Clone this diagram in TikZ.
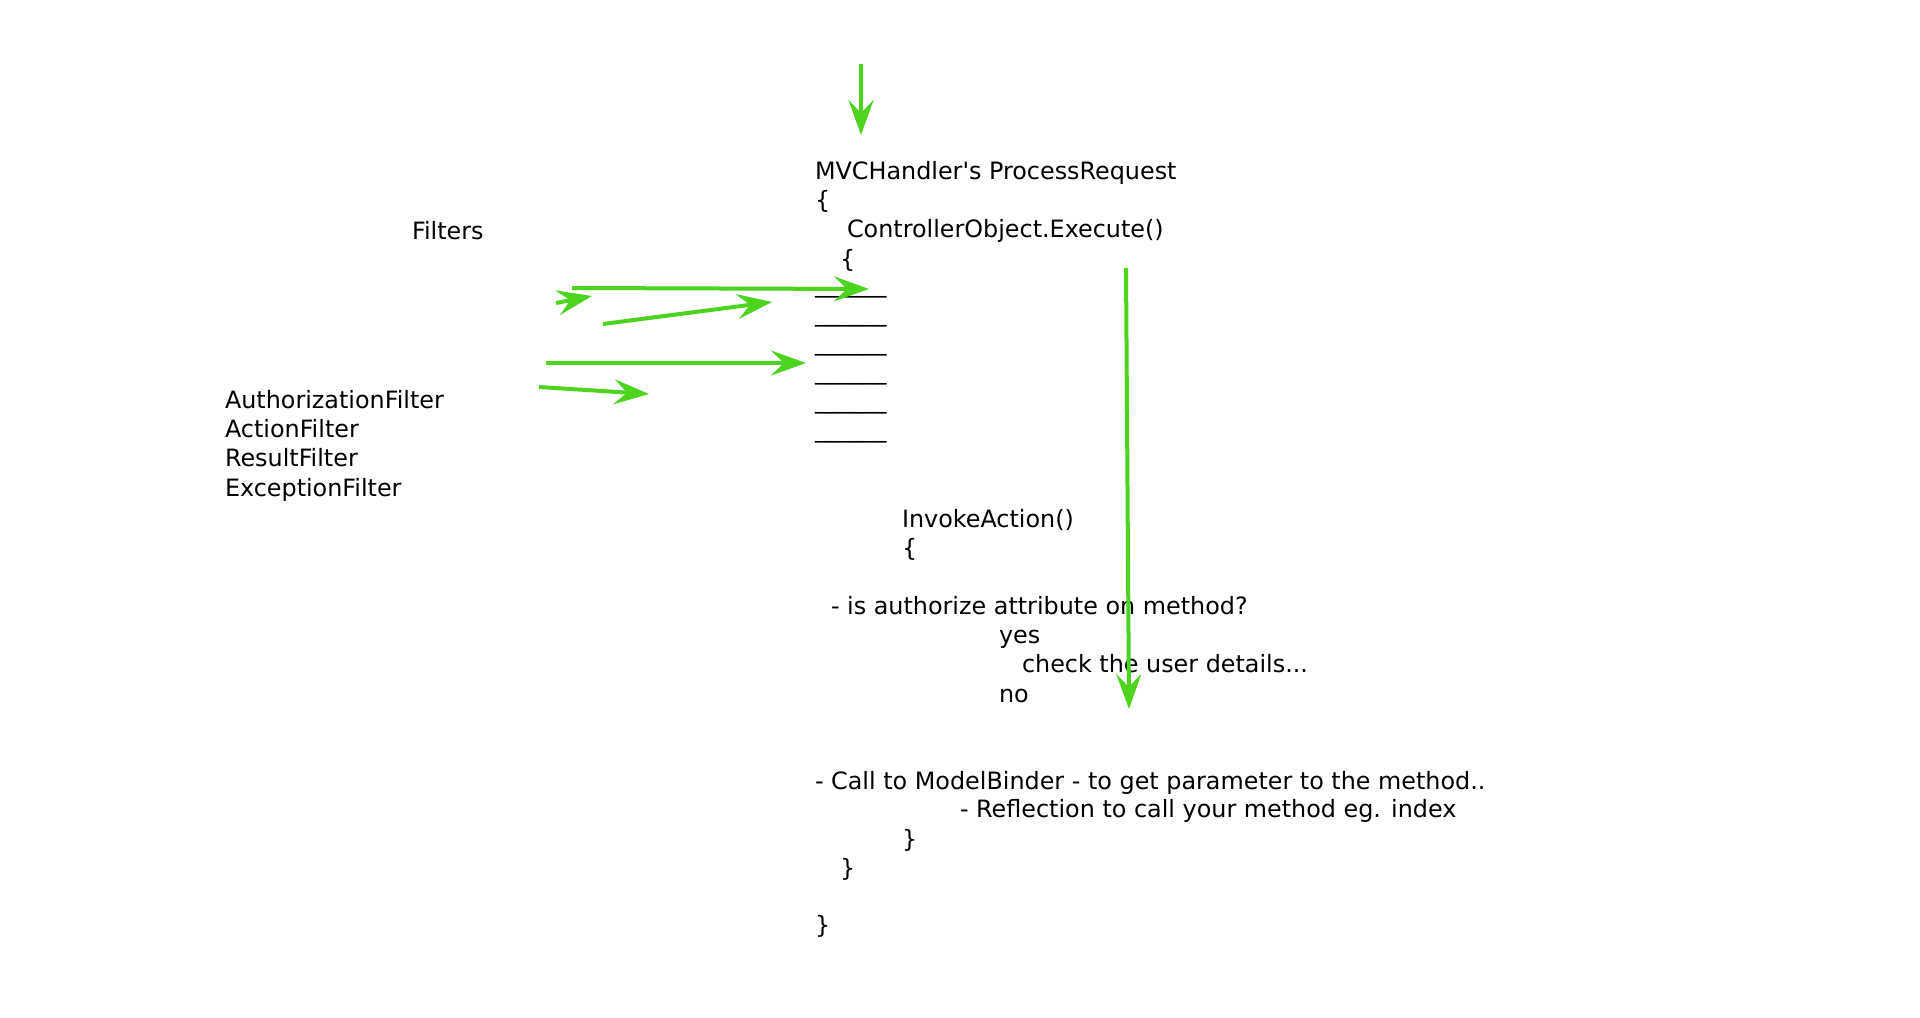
\documentclass[tikz,border=0pt]{standalone}
\usepackage{fontspec}
\setmainfont{DejaVu Sans}
\usetikzlibrary{arrows.meta}
\definecolor{arrgreen}{HTML}{4CD41E}
\tikzset{
  txt/.style={anchor=base west, inner sep=0pt, outer sep=0pt, font=\fontsize{11.93pt}{14.7pt}\selectfont},
  garrow/.style={draw=arrgreen, line width=2pt, -{Stealth[length=17.5pt, width=12.5pt, inset=6.5pt, fill=arrgreen]}},
}
\begin{document}
\begin{tikzpicture}[x=0.5pt, y=-0.5pt]
\useasboundingbox (0,0) rectangle (1920,1017);
% texts
\node[txt] (filters) at (412,239) {Filters};
\node[txt] (f1) at (225,408) {AuthorizationFilter};
\node[txt] (f2) at (225,437.4) {ActionFilter};
\node[txt] (f3) at (225,466.8) {ResultFilter};
\node[txt] (f4) at (225,496.2) {ExceptionFilter};
\node[txt] (mvc) at (815,179) {MVCHandler\textquotesingle s ProcessRequest};
\node[txt] (ob1) at (815,208.4) {\{};
\node[txt] (ctrl) at (847,237.8) {ControllerObject.Execute()};
\node[txt] (ob2) at (840,267.2) {\{};
\node[txt] (u1) at (815,292) {\_\_\_\_\_\_};
\node[txt] (u2) at (815,321) {\_\_\_\_\_\_};
\node[txt] (u3) at (815,350) {\_\_\_\_\_\_};
\node[txt] (u4) at (815,379) {\_\_\_\_\_\_};
\node[txt] (u5) at (815,408) {\_\_\_\_\_\_};
\node[txt] (u6) at (815,437) {\_\_\_\_\_\_};
\node[txt] (inv) at (902,527) {InvokeAction()};
\node[txt] (ob3) at (902,556.4) {\{};
\node[txt] (auth) at (831,614) {- is authorize attribute on method?};
\node[txt] (yes) at (999,643.4) {yes};
\node[txt] (check) at (1022,672.8) {check the user details...};
\node[txt] (no) at (999,702.2) {no};
\node[txt] (call) at (815,789) {- Call to ModelBinder - to get parameter to the method..};
\node[txt] (refl) at (960,817.6) {- Reflection to call your method eg. index};
\node[txt] (cb1) at (902,847) {\}};
\node[txt] (cb2) at (840,876.4) {\}};
\node[txt] (cb3) at (815,933.5) {\}};
% arrow end points
\coordinate (t0) at (861,64);
\coordinate (t1) at (861,135);
\coordinate (v0) at (1126,268);
\coordinate (v1) at (1129,709);
\coordinate (a0) at (572,288);
\coordinate (a1) at (869,289);
\coordinate (s0) at (556,303);
\coordinate (s1) at (592,296);
\coordinate (b0) at (603,324);
\coordinate (b1) at (772,302);
\coordinate (c0) at (546,363);
\coordinate (c1) at (806,363);
\coordinate (d0) at (539,387);
\coordinate (d1) at (649,394);
\draw[garrow] (t0) -- (t1);
\draw[garrow] (v0) -- (v1);
\draw[garrow] (a0) -- (a1);
\draw[garrow] (s0) -- (s1);
\draw[garrow] (b0) -- (b1);
\draw[garrow] (c0) -- (c1);
\draw[garrow] (d0) -- (d1);
\end{tikzpicture}
\end{document}
